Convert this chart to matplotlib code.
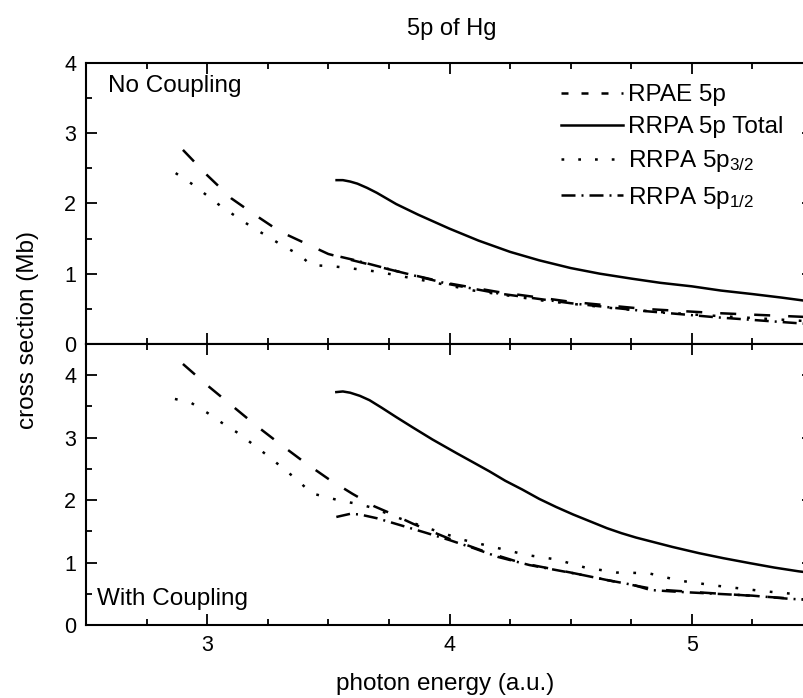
import matplotlib
matplotlib.use("Agg")
import matplotlib.pyplot as plt
from matplotlib.lines import Line2D
from matplotlib.ticker import MultipleLocator

plt.rcParams['font.family'] = ['Liberation Sans', 'DejaVu Sans']
plt.rcParams['mathtext.fontset'] = 'custom'
plt.rcParams['mathtext.rm'] = 'Liberation Sans'
plt.rcParams['mathtext.it'] = 'Liberation Sans:italic'

# ---------------- data: No Coupling (top panel) ----------------
e_rpae_nc = [2.90, 3.0, 3.1, 3.2, 3.3, 3.4, 3.5, 3.6, 3.8, 4.0, 4.2, 4.5, 4.8, 5.1, 5.5]
s_rpae_nc = [2.76, 2.40, 2.07, 1.83, 1.60, 1.44, 1.28, 1.19, 1.02, 0.86, 0.74, 0.60, 0.50, 0.44, 0.38]

e_tot_nc = [3.534, 3.56, 3.59, 3.62, 3.66, 3.70, 3.78, 3.87, 4.0, 4.12, 4.25, 4.37, 4.5,
            4.62, 4.75, 4.87, 5.0, 5.12, 5.25, 5.37, 5.5]
s_tot_nc = [2.33, 2.33, 2.31, 2.28, 2.22, 2.15, 1.99, 1.84, 1.64, 1.47, 1.31, 1.19, 1.08,
            1.00, 0.93, 0.87, 0.82, 0.76, 0.71, 0.66, 0.60]

e_p32_nc = [2.87, 2.94, 3.0, 3.06, 3.125, 3.19, 3.25, 3.31, 3.38, 3.43, 3.50, 3.56,
            3.7, 3.9, 4.1, 4.4, 4.7, 5.0, 5.5]
s_p32_nc = [2.43, 2.27, 2.11, 1.95, 1.80, 1.65, 1.53, 1.40, 1.27, 1.12, 1.11, 1.09,
            1.03, 0.90, 0.76, 0.61, 0.50, 0.42, 0.32]

e_p12_nc = [3.55, 3.6, 3.8, 4.0, 4.2, 4.5, 4.8, 5.1, 5.5]
s_p12_nc = [1.24, 1.20, 1.02, 0.85, 0.72, 0.58, 0.47, 0.38, 0.28]

# ---------------- data: With Coupling (bottom panel) ----------------
e_rpae_wc = [2.90, 3.0, 3.1, 3.2, 3.3, 3.4, 3.5, 3.6, 3.69, 3.75, 3.85, 4.0, 4.15,
             4.3, 4.5, 4.7, 4.85, 5.0, 5.2, 5.5]
s_rpae_wc = [4.18, 3.84, 3.52, 3.20, 2.90, 2.61, 2.34, 2.10, 1.90, 1.80, 1.62, 1.38, 1.17,
             0.99, 0.84, 0.68, 0.57, 0.53, 0.48, 0.40]

e_tot_wc = [3.533, 3.56, 3.59, 3.63, 3.67, 3.72, 3.78, 3.85, 3.93, 4.03, 4.10, 4.165,
            4.23, 4.30, 4.37, 4.44, 4.51, 4.58, 4.65, 4.71, 4.77, 4.82, 4.92, 5.03,
            5.13, 5.24, 5.34, 5.44, 5.5]
s_tot_wc = [3.73, 3.74, 3.72, 3.67, 3.60, 3.48, 3.33, 3.16, 2.97, 2.75, 2.60, 2.46,
            2.31, 2.17, 2.02, 1.89, 1.77, 1.66, 1.55, 1.47, 1.40, 1.35, 1.25, 1.15,
            1.07, 0.99, 0.92, 0.86, 0.83]

e_p32_wc = [2.867, 2.933, 3.0, 3.06, 3.125, 3.19, 3.25, 3.31, 3.376, 3.43, 3.49, 3.55,
            3.62, 3.68, 3.8, 3.95, 4.06, 4.18, 4.32, 4.44, 4.56, 4.69, 4.82, 4.95,
            5.1, 5.3, 5.5]
s_p32_wc = [3.62, 3.56, 3.40, 3.24, 3.08, 2.89, 2.71, 2.52, 2.31, 2.11, 2.05, 1.99,
            1.94, 1.88, 1.70, 1.50, 1.36, 1.25, 1.12, 1.05, 0.92, 0.84, 0.83, 0.71,
            0.63, 0.54, 0.47]

e_p12_wc = [3.533, 3.59, 3.63, 3.70, 3.77, 3.9, 4.0, 4.1, 4.2, 4.33, 4.44, 4.55, 4.65,
            4.76, 4.83, 4.95, 5.1, 5.25, 5.4, 5.5]
s_p12_wc = [1.73, 1.78, 1.77, 1.71, 1.63, 1.48, 1.36, 1.23, 1.09, 0.96, 0.88, 0.80, 0.72,
            0.64, 0.56, 0.53, 0.50, 0.47, 0.42, 0.40]

labels = ['RPAE 5p', 'RRPA 5p Total', r'RRPA 5p$_{\mathregular{3/2}}$', r'RRPA 5p$_{\mathregular{1/2}}$']
x_ticks = [3, 4, 5]

# ---------------- styles ----------------
LW = 1.8
ST_DASH = (0, (6.4, 7.2))
ST_DOT = (0, (1.1, 5.8))
ST_DD = (0, (5.6, 2.4, 0.8, 2.4))

fig = plt.figure(figsize=(8.04, 6.98), dpi=100)
W, H = 804.0, 698.0
left, right = 86 / W, 813 / W
ax1 = fig.add_axes([left, 1 - 344 / H, right - left, (344 - 62.7) / H])
ax2 = fig.add_axes([left, 1 - 625 / H, right - left, (625 - 344) / H], sharex=ax1)

def draw(ax, er, sr, et, st, e32, s32, e12, s12):
    ax.plot(er, sr, color='k', lw=LW, linestyle=ST_DASH)
    ax.plot(et, st, color='k', lw=LW, linestyle='-')
    ax.plot(e32, s32, color='k', lw=LW, linestyle=ST_DOT)
    ax.plot(e12, s12, color='k', lw=LW, linestyle=ST_DD)

draw(ax1, e_rpae_nc, s_rpae_nc, e_tot_nc, s_tot_nc, e_p32_nc, s_p32_nc, e_p12_nc, s_p12_nc)
draw(ax2, e_rpae_wc, s_rpae_wc, e_tot_wc, s_tot_wc, e_p32_wc, s_p32_wc, e_p12_wc, s_p12_wc)

ax1.set_xlim(2.5, 5.5)
ax1.set_ylim(0, 4)
ax2.set_ylim(0, 4.5)

for ax in (ax1, ax2):
    ax.xaxis.set_major_locator(MultipleLocator(1))
    ax.xaxis.set_minor_locator(MultipleLocator(0.25))
    ax.yaxis.set_major_locator(MultipleLocator(1))
    ax.yaxis.set_minor_locator(MultipleLocator(0.5))
    ax.tick_params(which='both', direction='in', top=True, right=True, width=1.3,
                   labelsize=15.5, colors='k')
    ax.tick_params(which='major', length=8)
    ax.tick_params(which='minor', length=4.5)
    ax.tick_params(axis='y', pad=7)
    ax.tick_params(axis='x', pad=7)
    for s in ax.spines.values():
        s.set_linewidth(1.5)
ax2.set_xticks(x_ticks)
ax1.tick_params(labelbottom=False)

ax1.text(0.030, 0.897, 'No Coupling', transform=ax1.transAxes, fontsize=17.5,
         va='baseline', ha='left')
ax2.text(0.0155, 0.071, 'With Coupling', transform=ax2.transAxes, fontsize=17.5,
         va='baseline', ha='left')

fig.text(452 / W, 1 - 35 / H, '5p of Hg', fontsize=17, ha='center', va='baseline')
fig.text(445 / W, 1 - 690 / H, 'photon energy (a.u.)', fontsize=17.5, ha='center', va='baseline')
fig.text(28 / W, 1 - 330 / H, 'cross section (Mb)', fontsize=17.5, ha='center', va='center',
         rotation=90)

handles = [
    Line2D([], [], color='k', lw=LW, linestyle=(0, (2.8, 5.2))),
    Line2D([], [], color='k', lw=LW, linestyle='-'),
    Line2D([], [], color='k', lw=LW, linestyle=(0, (1.1, 5.6))),
    Line2D([], [], color='k', lw=LW, linestyle=ST_DD),
]
leg = fig.legend(handles, labels, loc='upper left', bbox_to_anchor=(561 / W, 1 - 84 / H),
                 frameon=False, fontsize=17.5, handlelength=2.55, handletextpad=0.2,
                 labelspacing=0.42, borderpad=0, borderaxespad=0)

fig.savefig('out.png', dpi=100)
